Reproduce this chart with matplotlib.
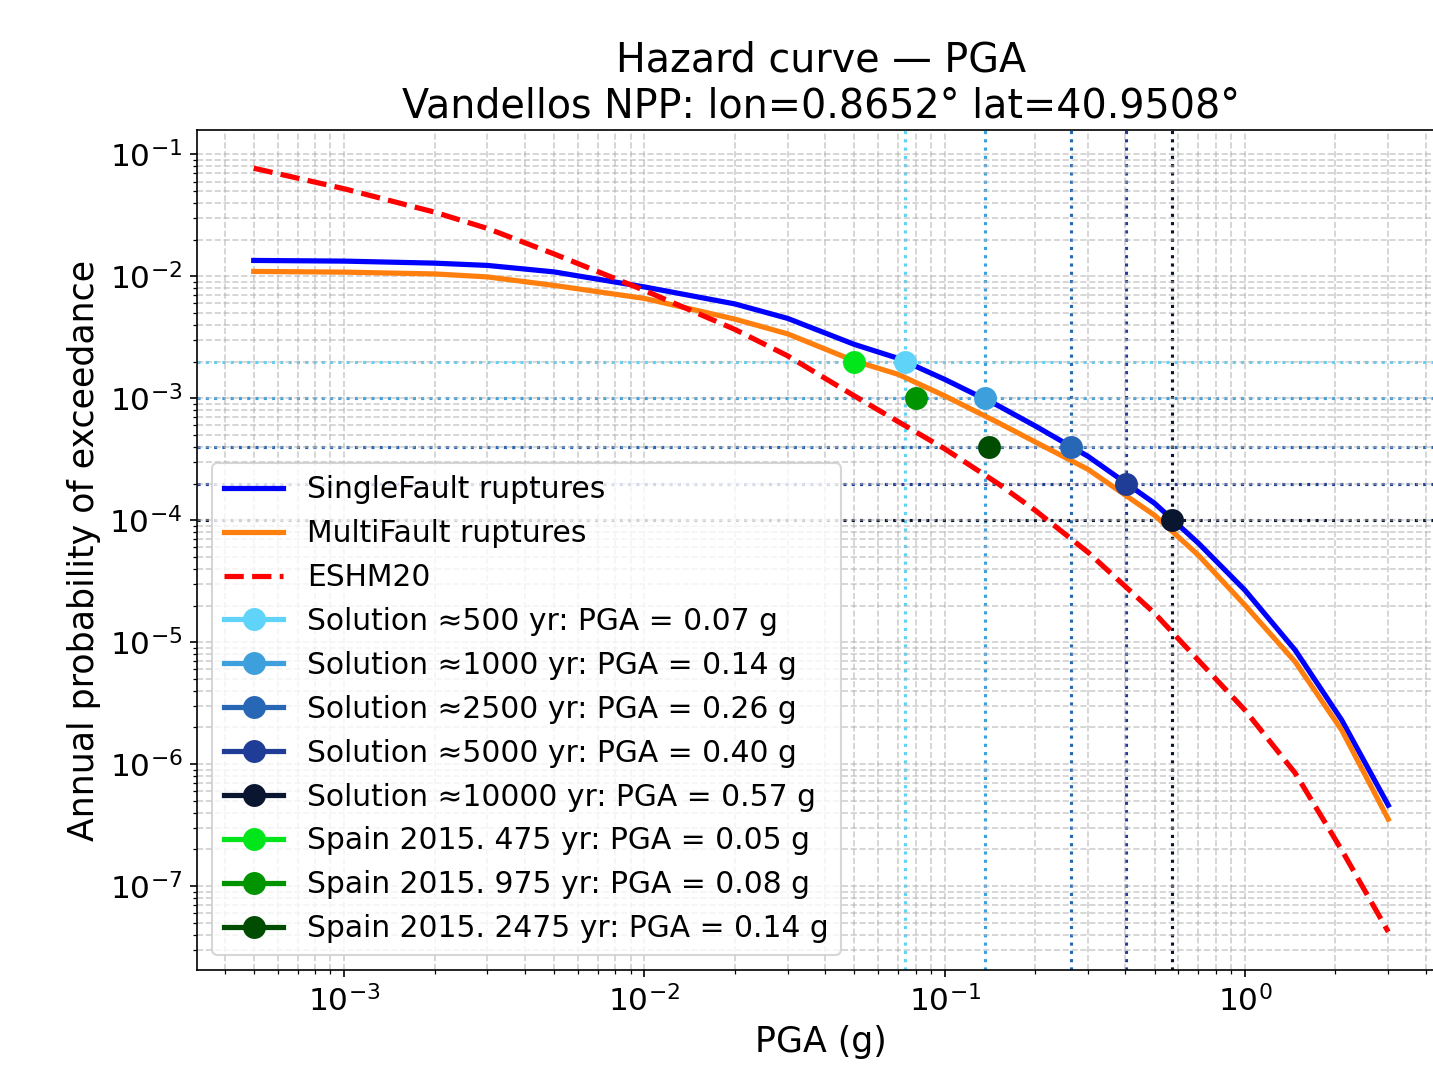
import numpy as np
import matplotlib
matplotlib.use("Agg")
import matplotlib.pyplot as plt
from matplotlib.ticker import LogLocator, NullFormatter

# ---- data ----
pga = [0.0005, 0.001, 0.002, 0.003, 0.005, 0.01, 0.02, 0.03, 0.05, 0.07,
       0.1, 0.15, 0.2, 0.3, 0.5, 0.7, 1.0, 1.47, 2.1, 3.0]
poe_single = [0.01352, 0.01335, 0.01285, 0.01231, 0.01089, 0.00820, 0.00595,
              0.004525, 0.002771, 0.002128, 0.001431, 0.000876, 0.000595,
              3.347e-4, 1.378e-4, 6.48e-5, 2.668e-5, 8.60e-6, 2.295e-6, 4.61e-7]
poe_multi = [0.01099, 0.01084, 0.01048, 0.00991, 0.00844, 0.00660, 0.004467,
             0.003379, 0.002029, 0.001573, 0.001048, 0.000636, 0.0004398,
             2.618e-4, 1.099e-4, 5.165e-5, 2.011e-5, 6.90e-6, 1.90e-6, 3.54e-7]
poe_eshm20 = [0.0772, 0.05235, 0.03365, 0.02474, 0.01529, 0.00768, 0.003678,
              0.002231, 0.001048, 0.000644, 0.0003856, 0.0002011, 0.0001208,
              5.466e-5, 1.729e-5, 7.1e-6, 2.771e-6, 8.44e-7, 1.973e-7, 4.22e-8]

sol_periods = [500, 1000, 2500, 5000, 10000]
sol_poe = [2e-3, 1e-3, 4e-4, 2e-4, 1e-4]
sol_pga = [0.0735, 0.136, 0.264, 0.403, 0.573]
sol_colors = ['#5fd3f8', '#3d9fdb', '#2866b6', '#1f3c96', '#0a1530']

spain_periods = [475, 975, 2475]
spain_poe = [2e-3, 1e-3, 4e-4]
spain_pga = [0.05, 0.08, 0.14]
spain_colors = ['#00e61a', '#009400', '#004c00']

# ---- figure ----
W, H, DPI = 1433, 1068, 150
fig = plt.figure(figsize=(W / DPI, H / DPI), dpi=DPI)
ax = fig.add_axes([197 / W, 1 - 970 / H, (1445 - 197) / W, (970 - 130) / H])

ax.plot(pga, poe_single, color='#0000ff', lw=2.5, label='SingleFault ruptures')
ax.plot(pga, poe_multi, color='#ff7f0e', lw=2.5, label='MultiFault ruptures')
ax.plot(pga, poe_eshm20, color='#ff0000', lw=2.5, ls='--', label='ESHM20')

for T, p, v, c in zip(sol_periods, sol_poe, sol_pga, sol_colors):
    ax.axhline(p, color=c, ls=':', lw=1.5, zorder=1.5)
    ax.axvline(v, color=c, ls=':', lw=1.5, zorder=1.5)
    ax.plot([v], [p], 'o-', color=c, ms=10, lw=2.5, zorder=4,
            label=f'Solution \u2248{T} yr: PGA = {v:.2f} g')

for T, p, v, c in zip(spain_periods, spain_poe, spain_pga, spain_colors):
    ax.plot([v], [p], 'o-', color=c, ms=10, lw=2.5, zorder=4,
            label=f'Spain 2015. {T} yr: PGA = {v:.2f} g')

ax.set_xscale('log')
ax.set_yscale('log')
for axis in (ax.xaxis, ax.yaxis):
    axis.set_major_locator(LogLocator(base=10, numticks=30))
    axis.set_minor_locator(LogLocator(base=10, subs=np.arange(2, 10), numticks=30))
    axis.set_minor_formatter(NullFormatter())

ax.grid(True, which='both', ls='--', lw=0.8, color='#b0b0b0', alpha=0.6)
ax.tick_params(labelsize=15)

ax.set_xlabel('PGA (g)', fontsize=16.7)
ax.set_ylabel('Annual probability of exceedance', fontsize=16.7)
ax.set_title('Hazard curve \u2014 PGA\nVandellos NPP: lon=0.8652\u00b0 lat=40.9508\u00b0',
             fontsize=19)

ax.legend(loc='lower left', fontsize=14.3)

fig.savefig('out.png', dpi=DPI)
